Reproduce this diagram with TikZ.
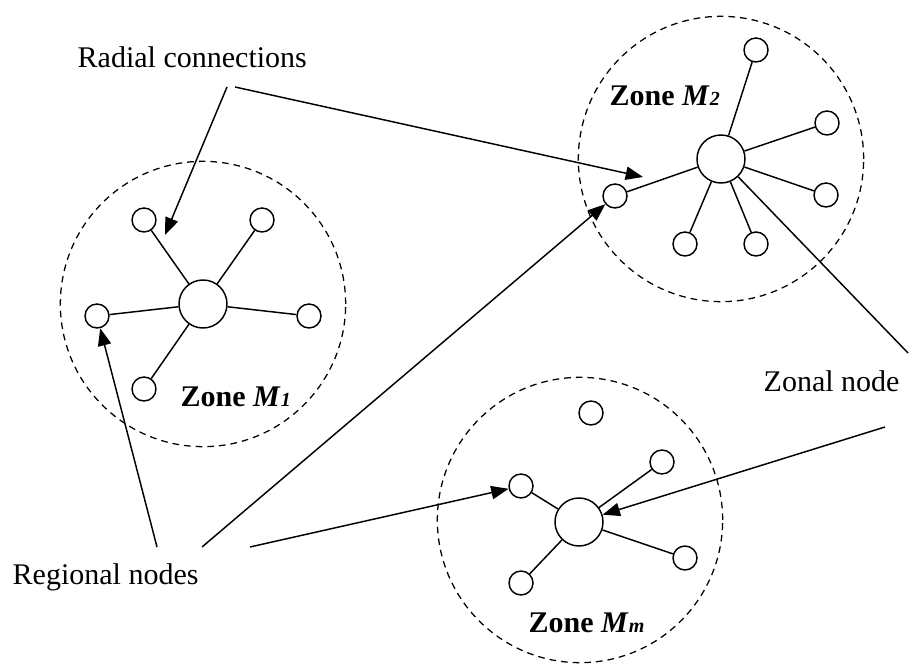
\documentclass[tikz,border=0pt]{standalone}
\usepackage{fontspec}
\setmainfont{Liberation Serif}
\usepackage{tikz}
\usetikzlibrary{arrows.meta,calc,positioning}
\newcommand\zsub[1]{{\fontsize{15}{18}\selectfont#1}}
\tikzset{
	zone map/.style={
		x=0.75pt, y=-0.75pt,
		line width=1.1pt,
		every node/.style={font=\fontsize{22.5}{27}\selectfont, inner sep=0pt},
		zone/.style={draw, circle, dash pattern=on 5pt off 3.75pt,
			line width=0.95pt, minimum size=214pt},
		hub/.style={draw, circle, fill=white, minimum size=36pt},
		leaf/.style={draw, circle, fill=white, minimum size=18pt},
		ar/.style={-{Triangle[length=13pt,width=10pt]}},
		zone name/.style={font=\fontsize{22.5}{27}\selectfont\bfseries, anchor=base west},
		txt/.style={anchor=base west}
	}
}

\begin{document}
\begin{tikzpicture}[zone map]
  \useasboundingbox (0,0) rectangle (911,666);
  % zones
  \node[zone] (zone1) at (203,304) {};
  \node[zone] (zone2) at (721,159) {};
  \node[zone] (zonem) at (580,520) {};
  % zone M1
  \node[hub]  (hub1) at (203,304) {};
  \node[leaf] (n1a) at (144,220) {};
  \node[leaf] (n1b) at (262,220) {};
  \node[leaf] (n1c) at (97,316) {};
  \node[leaf] (n1d) at (309,316) {};
  \node[leaf] (n1e) at (144,389) {};
  \foreach \i in {a,b,c,d,e} \draw (hub1) -- (n1\i);
  % zone M2
  \node[hub]  (hub2) at (721,159) {};
  \node[leaf] (n2a) at (756,50) {};
  \node[leaf] (n2b) at (827,123) {};
  \node[leaf] (n2c) at (826,195) {};
  \node[leaf] (n2d) at (756,244) {};
  \node[leaf] (n2e) at (685,244) {};
  \node[leaf] (n2f) at (615,196) {};
  \foreach \i in {a,b,c,d,e,f} \draw (hub2) -- (n2\i);
  % zone Mm
  \node[hub]  (hubm) at (579,522) {};
  \node[leaf] (nma) at (591,413) {};
  \node[leaf] (nmb) at (521,486) {};
  \node[leaf] (nmc) at (662,462) {};
  \node[leaf] (nmd) at (685,558) {};
  \node[leaf] (nme) at (521,583) {};
  \foreach \i in {b,c,d,e} \draw (hubm) -- (nm\i);
  % zone names
  \node[zone name] (name1) at (180,407) {Zone \textit{M}\zsub{\textit{1}}};
  \node[zone name] (name2) at (609,106) {Zone \textit{M}\zsub{\textit{2}}};
  \node[zone name] (namem) at (528,633) {Zone \textit{M}\zsub{\textit{m}}};
  % labels
  \node[txt] (radial)   at (77,68)   {Radial connections};
  \node[txt] (regional) at (12,585)  {Regional nodes};
  \node[txt] (zonal)    at (763,392) {Zonal node};
  \coordinate (rc1) at (227,87);
  \coordinate (rc2) at (235,87);
  \coordinate (rcA) at (165,235);
  \coordinate (rcB) at (643,177);
  \coordinate (rn1) at (157,547);
  \coordinate (rn2) at (202,547);
  \coordinate (rn3) at (250,547);
  \coordinate (zn1) at (908,353);
  \coordinate (zn2) at (885,427);
  \draw[ar] (rc1) -- (rcA);
  \draw[ar] (rc2) -- (rcB);
  \draw[ar] (rn1) -- (n1c);
  \draw[ar] (rn2) -- (n2f);
  \draw[ar] (rn3) -- (nmb);
  \draw (zn1) -- (hub2);
  \draw[ar] (zn2) -- (hubm);
\end{tikzpicture}
\end{document}
